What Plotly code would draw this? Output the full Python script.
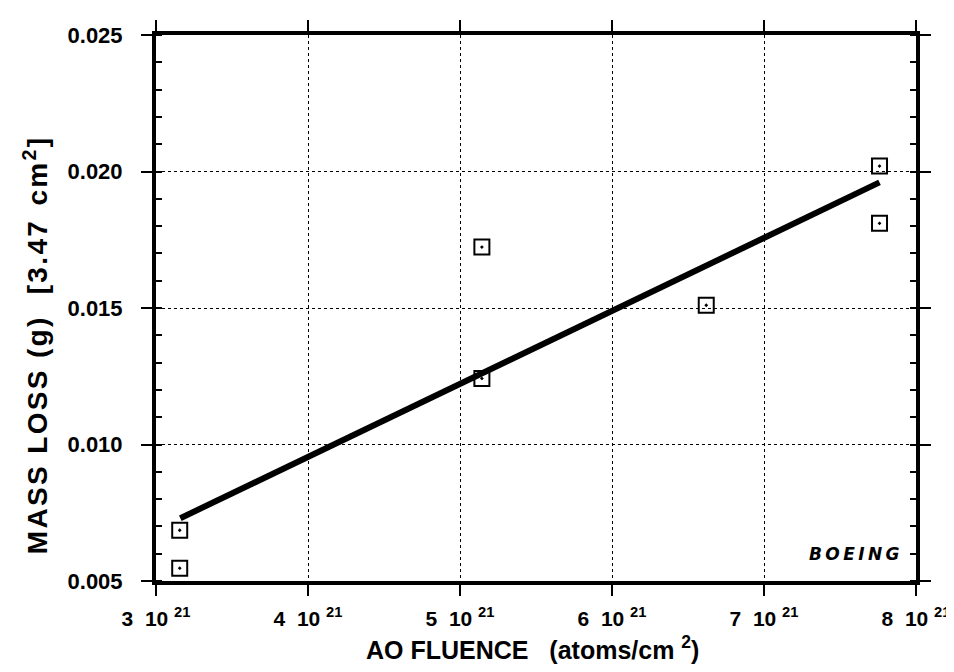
import plotly.graph_objects as go

# ---- data ----
ao_fluence = [3.156e21, 3.156e21, 5.144e21, 5.144e21, 6.62e21, 7.76e21, 7.76e21]
mass_loss = [0.00686, 0.00547, 0.01723, 0.01242, 0.0151, 0.0202, 0.0181]
fit_x = [3.16e21, 7.76e21]
fit_y = [0.0073, 0.0196]

x_tickvals = [3e21, 4e21, 5e21, 6e21, 7e21, 8e21]
x_ticktext = ["3\u00a0\u00a010 <sup>21</sup>", "4\u00a0\u00a010 <sup>21</sup>",
              "5\u00a0\u00a010 <sup>21</sup>", "6\u00a0\u00a010 <sup>21</sup>",
              "7\u00a0\u00a010 <sup>21</sup>", "8\u00a0\u00a010 <sup>21</sup>"]
y_tickvals = [0.005, 0.010, 0.015, 0.020, 0.025]
y_ticktext = ["0.005", "0.010", "0.015", "0.020", "0.025"]

x_title = "AO FLUENCE\u00a0\u00a0 (atoms/cm <sup>2</sup>)"
y_title_parts = ["MASS LOSS (g)", "[3.47", "cm<sup>2</sup>]"]

FONT = "Liberation Sans, Arial, Helvetica, sans-serif"
HS = "\u200a"  # hair space used as letter spacing for the stretched y title


def spaced(s):
    out = []
    i = 0
    while i < len(s):
        if s.startswith("<sup>", i):
            j = s.index("</sup>", i) + len("</sup>")
            out.append(s[i:j])
            i = j
        else:
            out.append(s[i])
            i += 1
    return HS.join(out)


y_title = (spaced(y_title_parts[0]) + "\u00a0\u00a0 " + spaced(y_title_parts[1])
           + "\u00a0 " + spaced(y_title_parts[2]))

fig = go.Figure()
fig.add_trace(go.Scatter(
    x=fit_x, y=fit_y, mode="lines",
    line=dict(color="black", width=6),
    hoverinfo="skip", showlegend=False))
fig.add_trace(go.Scatter(
    x=ao_fluence, y=mass_loss, mode="markers",
    marker=dict(symbol="square-open-dot", size=15, color="black",
                line=dict(color="black", width=2)),
    showlegend=False))

fig.add_annotation(
    text="B\u2009O\u2009E\u2009I\u2009N\u2009G", xref="paper", yref="paper",
    x=0.982, y=0.049, xanchor="right", yanchor="middle", showarrow=False,
    font=dict(family="DejaVu Sans, Liberation Sans, sans-serif", size=17,
              color="black", weight="bold", style="italic"))

# axis titles placed as annotations
fig.add_annotation(
    text=x_title, xref="paper", yref="paper", x=0.495, y=-0.123,
    xanchor="center", yanchor="middle", showarrow=False,
    font=dict(family=FONT, size=25, color="black", weight="bold"))
fig.add_annotation(
    text=y_title, xref="paper", yref="paper", x=-0.158, y=0.43,
    xanchor="center", yanchor="middle", textangle=-90, showarrow=False,
    font=dict(family=FONT, size=28, color="black", weight="bold"))

axis_common = dict(
    showline=True, linewidth=4, linecolor="black", mirror="ticks",
    showgrid=True, gridcolor="black", gridwidth=1, griddash="dot",
    zeroline=False, ticks="outside", ticklen=11, tickwidth=2, tickcolor="black",
)

fig.update_xaxes(
    **axis_common,
    range=[3e21, 8e21], tickmode="array",
    tickvals=x_tickvals, ticktext=x_ticktext, ticklabelstandoff=5,
    tickfont=dict(family=FONT, size=21, color="black", weight="bold"),
)
fig.update_yaxes(
    **axis_common,
    range=[0.005, 0.025], tickmode="array",
    tickvals=y_tickvals, ticktext=y_ticktext, ticklabelstandoff=14,
    tickfont=dict(family=FONT, size=22, color="black", weight="bold"),
    minor=dict(ticks="inside", ticklen=6, tickwidth=2, tickcolor="black",
               dtick=0.001, showgrid=False),
)

fig.update_layout(
    width=954, height=672,
    margin=dict(l=148, r=40, t=19, b=99),
    plot_bgcolor="white", paper_bgcolor="white",
    font=dict(family=FONT, color="black"),
)

fig.write_html("out.html")
